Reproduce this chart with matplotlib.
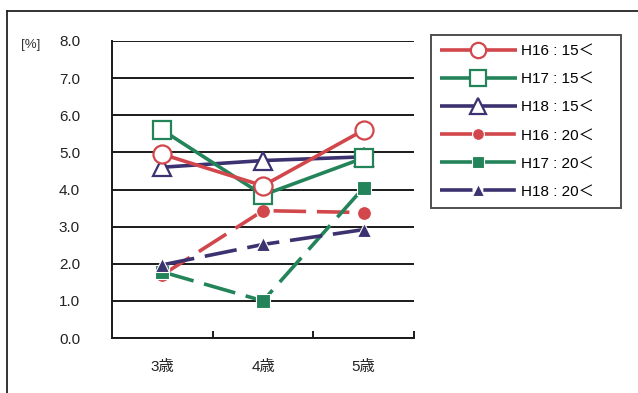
import matplotlib
matplotlib.use("Agg")
import matplotlib.pyplot as plt
from matplotlib.lines import Line2D
from matplotlib.ticker import FixedLocator

plt.rcParams['font.family'] = ['Liberation Sans', 'Noto Sans CJK JP', 'DejaVu Sans']

# ---- data ----
ages = ["3歳", "4歳", "5歳"]
yticks = [0.0, 1.0, 2.0, 3.0, 4.0, 5.0, 6.0, 7.0, 8.0]

h16_15 = [4.95, 4.1, 5.6]
h17_15 = [5.6, 3.85, 4.85]
h18_15 = [4.6, 4.78, 4.88]
h16_20 = [1.7, 3.43, 3.38]
h17_20 = [1.78, 1.0, 4.05]
h18_20 = [1.97, 2.52, 2.92]

labels = ["H16 : 15＜", "H17 : 15＜", "H18 : 15＜",
          "H16 : 20＜", "H17 : 20＜", "H18 : 20＜"]

RED = "#d2474b"
GREEN = "#23845a"
PURPLE = "#3d3270"

fig = plt.figure(figsize=(6.38, 3.93), dpi=100)
ax = fig.add_axes([112 / 638, 1 - 338 / 393, (414 - 112) / 638, (338 - 41) / 393])

x = list(range(len(ages)))
lw = 2.6
dash = (9, 3)

series = [
    (h16_20, RED, "o", 10, True),
    (h17_20, GREEN, "s", 10, True),
    (h18_20, PURPLE, "^", 10.5, True),
    (h18_15, PURPLE, "^", 13.5, False),
    (h17_15, GREEN, "s", 13, False),
    (h16_15, RED, "o", 13, False),
]
handles = {}
for vals, col, mk, ms, filled in series:
    kw = dict(color=col, lw=lw, marker=mk, markersize=ms,
              solid_capstyle="butt", dash_capstyle="butt")
    if filled:
        kw.update(markerfacecolor=col, markeredgecolor="white", markeredgewidth=0.8,
                  linestyle=(0, dash))
    else:
        kw.update(markerfacecolor="white", markeredgecolor=col, markeredgewidth=1.6,
                  linestyle="-")
    ln, = ax.plot(x, vals, **kw)
    handles[id(vals)] = ln

order = [h16_15, h17_15, h18_15, h16_20, h17_20, h18_20]
leg = fig.legend([handles[id(v)] for v in order], labels,
                 loc="upper left",
                 bbox_to_anchor=(431 / 638, 1 - 35 / 393, 190 / 638, 0.0),
                 mode="expand",
                 frameon=True, fancybox=False, edgecolor="#222222",
                 fontsize=11, handlelength=5.0, handletextpad=0.3,
                 labelspacing=0.92, borderpad=0.6, borderaxespad=0,
                 markerscale=0.85)
leg.get_frame().set_linewidth(1.4)

ax.set_xlim(-0.5, 2.5)
ax.set_ylim(0, 8)
ax.set_yticks(yticks)
ax.set_yticklabels([f"{v:.1f}" for v in yticks])
ax.yaxis.grid(True, color="#1a1a1a", lw=1.4)
ax.set_axisbelow(True)
ax.tick_params(axis="y", length=0, pad=23, labelsize=11, colors="#222222")

ax.set_xticks(x)
ax.set_xticklabels(ages)
ax.tick_params(axis="x", which="major", length=0, pad=16, labelsize=11, colors="#222222")
ax.xaxis.set_minor_locator(FixedLocator([0.5, 1.5, 2.5]))
ax.tick_params(axis="x", which="minor", direction="in", length=5, width=1.4, color="#1a1a1a")

for s in ("top", "right"):
    ax.spines[s].set_visible(False)
for s in ("left", "bottom"):
    ax.spines[s].set_color("#1a1a1a")
    ax.spines[s].set_linewidth(1.4)

fig.text(31 / 638, 1 - 45 / 393, "[%]", ha="center", va="center", fontsize=9.5, color="#333333")

# page frame
fig.add_artist(Line2D([7 / 638, 1.0], [1 - 11 / 393, 1 - 11 / 393], color="#222222", lw=1.3,
                      transform=fig.transFigure))
fig.add_artist(Line2D([7 / 638, 7 / 638], [0, 1 - 11 / 393], color="#222222", lw=1.3,
                      transform=fig.transFigure))

fig.savefig("out.png", dpi=100)
